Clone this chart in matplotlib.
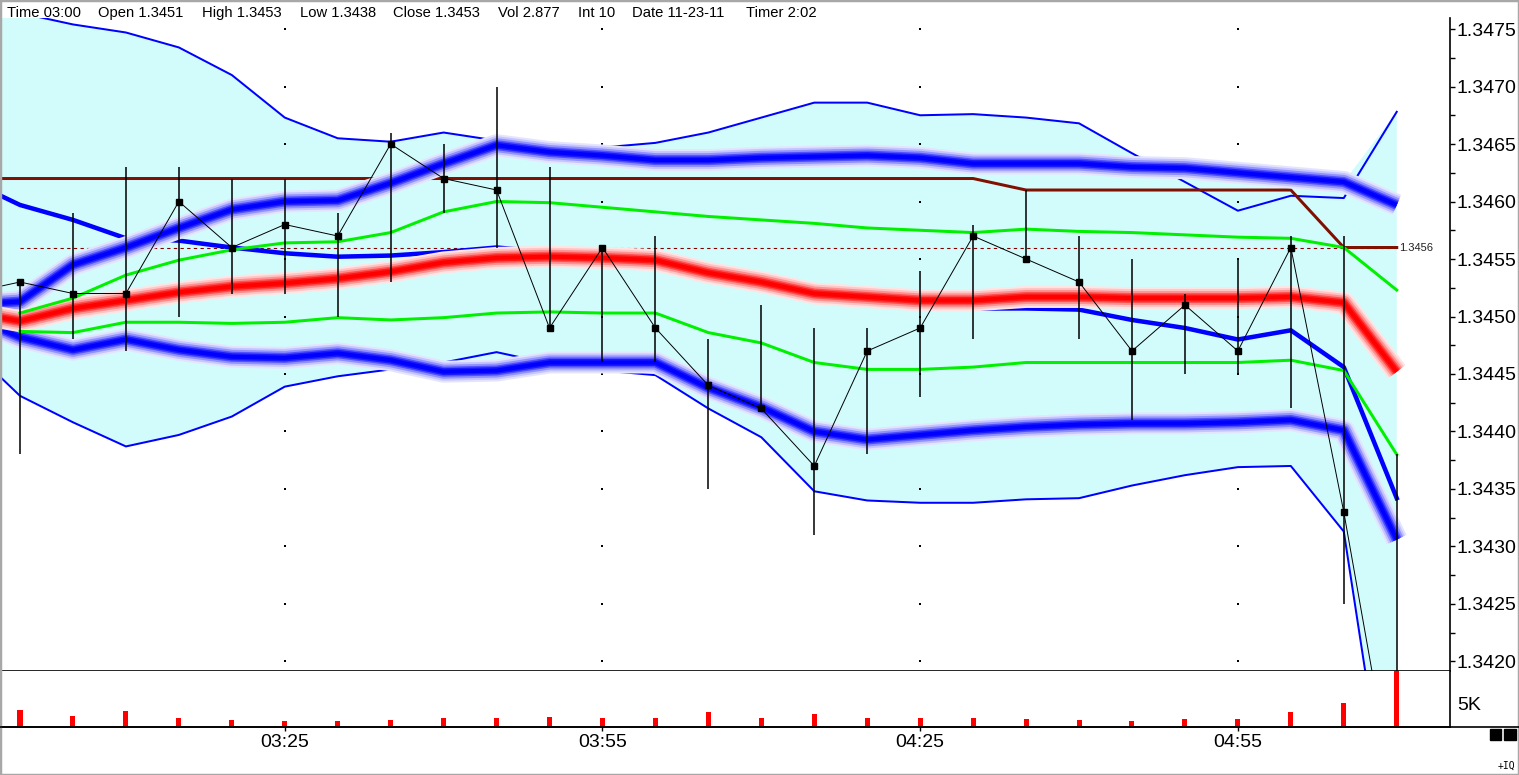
import numpy as np
import matplotlib.pyplot as plt
from matplotlib.ticker import MultipleLocator, FixedLocator
from matplotlib.patches import Rectangle
from matplotlib.lines import Line2D

plt.rcParams['font.family'] = ['Liberation Sans', 'DejaVu Sans']

W, H = 1519, 775

# 5 minute bars, index 0 = 03:00; index -1 is the bar before (only its tail shows)
bars_ext = np.arange(-1, 27)
bars = np.arange(0, 27)
tick_bars = [5, 11, 17, 23]
tick_labels = ["03:25", "03:55", "04:25", "04:55"]

# bars -1 .. 26
close = [1.3452, 1.3453, 1.3452, 1.3452, 1.3460, 1.3456, 1.3458, 1.3457, 1.3465, 1.3462,
         1.3461, 1.3449, 1.3456, 1.3449, 1.3444, 1.3442, 1.3437, 1.3447, 1.3449, 1.3457,
         1.3455, 1.3453, 1.3447, 1.3451, 1.3447, 1.3456, 1.3433, 1.3407]

# bars 0 .. 26
high = [1.3453, 1.3459, 1.3463, 1.3463, 1.3462, 1.3462, 1.3459, 1.3466, 1.3465, 1.3470,
        1.3463, 1.3456, 1.3457, 1.3448, 1.3451, 1.3449, 1.3449, 1.3454, 1.3458, 1.3461,
        1.3457, 1.3455, 1.3452, 1.3455, 1.3457, 1.3457, 1.3438]
low = [1.3438, 1.3448, 1.3447, 1.3450, 1.3452, 1.3452, 1.3450, 1.3453, 1.3459, 1.3456,
       1.3449, 1.3446, 1.3446, 1.3435, 1.3442, 1.3431, 1.3438, 1.3443, 1.3448, 1.3455,
       1.3448, 1.3441, 1.3445, 1.3445, 1.3442, 1.3425, 1.3400]
volume = [3480, 2230, 3270, 1810, 1400, 1190, 1190, 1400, 1810, 1810, 2020, 1810, 1810, 3060,
          1810, 2710, 1810, 1810, 1810, 1600, 1400, 1190, 1600, 1600, 3060, 4940, 14000]

# bollinger style bands, bars -1 .. 26
bb_upper = [1.34510, 1.34513, 1.34545, 1.34560, 1.34577, 1.34593, 1.34600, 1.34601, 1.34616,
            1.34633, 1.34649, 1.34643, 1.34640, 1.34636, 1.34636, 1.34638, 1.34639, 1.34640,
            1.34638, 1.34633, 1.34633, 1.34633, 1.34630, 1.34629, 1.34625, 1.34621, 1.34617,
            1.34597]
bb_mid = [1.34504, 1.34496, 1.34507, 1.34514, 1.34521, 1.34526, 1.34529, 1.34533, 1.34539,
          1.34547, 1.34551, 1.34552, 1.34551, 1.34549, 1.34538, 1.34530, 1.34520, 1.34517,
          1.34514, 1.34514, 1.34517, 1.34517, 1.34516, 1.34516, 1.34516, 1.34517, 1.34512,
          1.34452]
bb_lower = [1.34501, 1.34482, 1.34471, 1.34480, 1.34471, 1.34465, 1.34464, 1.34468, 1.34462,
            1.34452, 1.34453, 1.34460, 1.34460, 1.34460, 1.34438, 1.34421, 1.34400, 1.34393,
            1.34397, 1.34401, 1.34404, 1.34406, 1.34407, 1.34407, 1.34408, 1.34410, 1.34401,
            1.34306]

# thin outer envelope, bars -1 .. 26
env_upper = [1.34771, 1.34764, 1.34754, 1.34747, 1.34734, 1.34710, 1.34673, 1.34655, 1.34652,
             1.34660, 1.34653, 1.34649, 1.34647, 1.34651, 1.34660, 1.34673, 1.34686, 1.34686,
             1.34675, 1.34676, 1.34673, 1.34668, 1.34642, 1.34617, 1.34592, 1.34605, 1.34603,
             1.34678]
env_lower = [1.34475, 1.34431, 1.34408, 1.34387, 1.34397, 1.34413, 1.34439, 1.34448, 1.34454,
             1.34460, 1.34469, 1.34459, 1.34453, 1.34449, 1.34420, 1.34395, 1.34348, 1.34340,
             1.34338, 1.34338, 1.34341, 1.34342, 1.34353, 1.34362, 1.34369, 1.34370, 1.34313,
             1.34013]

# thick blue average, bars -1 .. 26
ma_line = [1.34619, 1.34597, 1.34584, 1.34568, 1.34566, 1.34560, 1.34555, 1.34552, 1.34553,
           1.34556, 1.34560, 1.34556, 1.34551, 1.34544, 1.34533, 1.34523, 1.34514, 1.34511,
           1.34507, 1.34507, 1.34507, 1.34506, 1.34497, 1.34490, 1.34480, 1.34488, 1.34456,
           1.34342]

# highest high, bars -1 .. 26
brown = [1.3462] * 20 + [1.3461] * 6 + [1.3456] * 2

# green channel, bars 0 .. 26
green_upper = [1.34503, 1.34516, 1.34536, 1.34549, 1.34558, 1.34564, 1.34565, 1.34573, 1.34591,
               1.34600, 1.34599, 1.34595, 1.34591, 1.34587, 1.34584, 1.34581, 1.34577, 1.34575,
               1.34573, 1.34576, 1.34574, 1.34573, 1.34571, 1.34569, 1.34568, 1.34560, 1.34523]
green_lower = [1.34487, 1.34486, 1.34495, 1.34495, 1.34494, 1.34495, 1.34499, 1.34497, 1.34499,
               1.34503, 1.34504, 1.34503, 1.34503, 1.34486, 1.34477, 1.34460, 1.34454, 1.34454,
               1.34456, 1.34460, 1.34460, 1.34460, 1.34460, 1.34460, 1.34462, 1.34453, 1.34380]

last_price = 1.3456

header = [(7, "Time 03:00"), (98, "Open 1.3451"), (202, "High 1.3453"), (300, "Low 1.3438"),
          (393, "Close 1.3453"), (498, "Vol 2.877"), (578, "Int 10"), (632, "Date 11-23-11"),
          (746, "Timer 2:02")]

PX = 0.72  # points per pixel at dpi 100


def glow(ax, x, y, layers, z):
    for w, c in layers:
        ax.plot(x, y, color=c, lw=w * PX, solid_capstyle='butt',
                solid_joinstyle='round', zorder=z)


blue_layers = [(22, '#e4e4ff'), (18, '#c4c4ff'), (14, '#9090ff'), (10, '#5050ff'),
               (7, '#1a1aff'), (4, '#0000ff')]
red_layers = [(22, '#ffe4e4'), (18, '#ffc4c4'), (14, '#ff9090'), (10, '#ff5050'),
              (7, '#ff1a1a'), (4, '#ff0000')]

fig = plt.figure(figsize=(W / 100, H / 100), dpi=100)
ax = fig.add_axes([2 / W, 1 - 671 / H, 1448 / W, 653 / H])
axv = fig.add_axes([2 / W, 1 - 727 / H, 1448 / W, 56 / H], sharex=ax)

# cyan area between the outermost band lines
top = np.maximum(env_upper, bb_upper)
bottom = np.minimum(env_lower, bb_lower)
ax.fill_between(bars_ext, bottom, top, color='#d2fcfc', lw=0, zorder=1)

# last price marker
ax.plot([0, 26], [last_price, last_price], color='#800000', lw=0.8,
        dashes=(3, 3), zorder=2)
ax.text(26.05, last_price, "1.3456", fontsize=8, va='center', ha='left',
        color='#202020', zorder=8)

ax.plot(bars_ext, env_upper, color='#0000ff', lw=2 * PX, zorder=2)
ax.plot(bars_ext, env_lower, color='#0000ff', lw=2 * PX, zorder=2)
ax.plot(bars_ext, ma_line, color='#0000ff', lw=4.5 * PX, zorder=3)
ax.plot(bars_ext, brown, color='#801000', lw=3 * PX, zorder=3)

glow(ax, bars_ext, bb_upper, blue_layers, 4)
glow(ax, bars_ext, bb_lower, blue_layers, 4)
glow(ax, bars_ext, bb_mid, red_layers, 4)

ax.plot(bars, green_upper, color='#00f000', lw=3 * PX, zorder=5)
ax.plot(bars, green_lower, color='#00f000', lw=3 * PX, zorder=5)

ax.vlines(bars, low, high, color='k', lw=1.1, zorder=6)
ax.plot(bars_ext, close, color='k', lw=0.7, zorder=6)
ax.plot(bars, close[1:], ls='none', marker='s', ms=4, color='k', zorder=7)

# dotted grid at label intersections
price_ticks = np.arange(1.3420, 1.34751, 0.0005)
gx, gy = np.meshgrid(tick_bars, price_ticks)
ax.scatter(gx.ravel(), gy.ravel(), s=0.6, marker='s', color='k', lw=0, zorder=2)

ax.set_xlim(-0.34, 27.006)
ax.set_ylim(1.341917, 1.347596)
ax.yaxis.tick_right()
ax.yaxis.set_major_locator(FixedLocator(price_ticks))
ax.yaxis.set_major_formatter(plt.FuncFormatter(lambda v, p: "%.4f" % v))
ax.yaxis.set_minor_locator(MultipleLocator(0.00025))
ax.tick_params(axis='y', which='both', direction='out', length=3.6, width=1,
               labelsize=14, pad=1)
ax.tick_params(axis='x', bottom=False, labelbottom=False)
for s in ['left', 'top']:
    ax.spines[s].set_visible(False)
ax.spines['bottom'].set_linewidth(1.2)
ax.spines['right'].set_linewidth(1.2)

# volume
axv.bar(bars, volume, width=0.095, color='#ff0000', zorder=2)
axv.set_ylim(0, 11667)
axv.yaxis.tick_right()
axv.set_yticks([5000])
axv.set_yticklabels(["5K"])
axv.tick_params(axis='y', length=0, labelsize=14, pad=5)
axv.set_xticks(tick_bars)
axv.set_xticklabels(tick_labels)
axv.tick_params(axis='x', length=3, width=1, labelsize=14, pad=2)
for s in ['left', 'top']:
    axv.spines[s].set_visible(False)
axv.spines['bottom'].set_linewidth(1.2)
axv.spines['right'].set_linewidth(1.2)

fig.add_artist(Line2D([0, 1], [1 - 727 / H] * 2, transform=fig.transFigure,
                      color='k', lw=1.2))

for px, s in header:
    fig.text(px / W, 1 - 17 / H, s, fontsize=10.6, va='baseline', ha='left')

fig.patches.append(Rectangle((1490 / W, 1 - 740 / H), 11 / W, 11 / H,
                             transform=fig.transFigure, color='k'))
fig.patches.append(Rectangle((1504 / W, 1 - 740 / H), 12 / W, 11 / H,
                             transform=fig.transFigure, color='k'))
fig.text(1506 / W, 1 - 766 / H, "+IQ", fontsize=7, ha='center', va='center',
         family='DejaVu Sans Mono')
fig.patches.append(Rectangle((0, 0), 1, 1, transform=fig.transFigure, fill=False,
                             edgecolor='#a8a8a8', lw=2.5))

fig.savefig("out.png", dpi=100)
